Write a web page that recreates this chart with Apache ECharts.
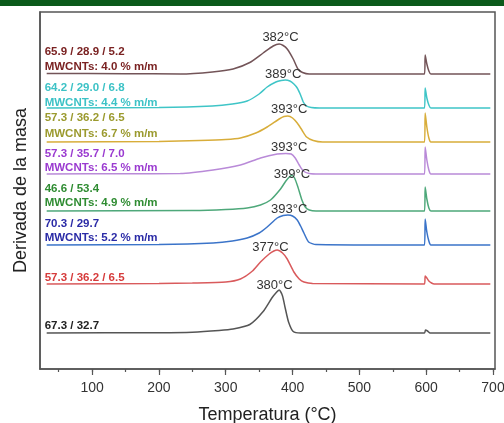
<!DOCTYPE html>
<html>
<head>
<meta charset="utf-8">
<script src="https://cdn.jsdelivr.net/npm/echarts@6/dist/echarts.min.js"></script>
<style>
html,body{margin:0;padding:0;background:#fff;}
#bar{position:absolute;left:0;top:0;width:504px;height:6px;background:#0b5a1a;}
#c{position:absolute;left:0;top:0;width:504px;height:423px;}
</style>
</head>
<body>
<div id="c"></div>
<div id="bar"></div>
<script>
// Temperature ticks
const majorTicks = [100, 200, 300, 400, 500, 600, 700];
const minorTicks = [50, 100, 150, 200, 250, 300, 350, 400, 450, 500, 550, 600, 650, 700];

// Series names (composition labels) and vertical offsets (a.u.)
const line1Labels = ['65.9 / 28.9 / 5.2', '64.2 / 29.0 / 6.8', '57.3 / 36.2 / 6.5', '57.3 / 35.7 / 7.0', '46.6 / 53.4', '70.3 / 29.7', '57.3 / 36.2 / 6.5', '67.3 / 32.7'];
const line2Labels = ['MWCNTs: 4.0 % m/m', 'MWCNTs: 4.4 % m/m', 'MWCNTs: 6.7 % m/m', 'MWCNTs: 6.5 % m/m', 'MWCNTs: 4.9 % m/m', 'MWCNTs: 5.2 % m/m', '', ''];
const baselines = [295, 261, 227, 195, 158, 124, 85, 36];
const line1Y = [317.5, 281, 251, 215, 180, 145, 91, 43];
const line2Y = [302.5, 266.5, 235, 201, 166, 131, null, null];
const peakLabels = ['382°C', '389°C', '393°C', '393°C', '399°C', '393°C', '377°C', '380°C'];
const peakLabelT = [382, 386, 395, 395, 399, 395, 367, 373];
const peakLabelY = [332, 295, 260, 222, 195, 160, 122, 84];

// DTG curves: temperature (°C) and derivative (a.u., above baseline)
const brownT = [32, 150, 232, 280, 311, 336, 356, 371, 380, 386, 392, 401, 408, 415, 425, 550, 597.5, 598.5, 601, 604, 607, 650, 696];
const brownY = [0.5, 0.3, 0, 2, 5, 11.5, 21, 28, 30, 28.5, 25, 15, 5, 1.5, 0, 0, 0, 19, 10, 3, 0, 0, 0];
const cyanT = [32, 200, 280, 310, 332, 350, 362, 375, 383, 389, 396, 402, 407, 412, 416, 421, 428, 440, 597.5, 598.5, 601, 604, 607, 696];
const cyanY = [0, 0.5, 2, 4, 7, 14, 21, 26, 27.5, 28, 27, 24, 20, 13, 6, 2, 0.5, 0, 0, 20, 10, 3, 0, 0];
const yellowT = [32, 200, 260, 300, 322, 345, 362, 380, 387, 393, 400, 407, 414, 421, 431, 445, 597.5, 598.5, 601, 604, 607, 696];
const yellowY = [0, 0.5, 1.5, 2.5, 4, 9, 15, 23, 25.5, 26, 24, 19, 12, 5, 1.5, 0, 0, 29, 15, 4, 0, 0];
const purpleT = [32, 150, 232, 281, 322, 352, 377, 390, 398, 404, 410, 416, 425, 440, 597.5, 598.5, 601, 604, 607, 696];
const purpleY = [0, 0.3, 0.5, 4, 9, 16, 20, 20.5, 20, 16, 9, 3, 0.5, 0, 0, 27, 14, 4, 0, 0];
const greenT = [32, 250, 300, 332, 352, 367, 382, 390, 396, 399, 403, 408, 414, 419, 425, 435, 597.5, 598.5, 601, 604, 607, 696];
const greenY = [0, 0.5, 1.5, 3, 6, 11, 22, 30, 34.5, 35.5, 33, 24, 11, 4, 1, 0, 0, 24, 12, 3, 0, 0];
const blueT = [32, 200, 281, 310, 332, 350, 362, 377, 386, 393, 400, 407, 412, 417, 424, 435, 597.5, 598.5, 601, 604, 607, 696];
const blueY = [0, 0.5, 2, 4, 7, 12, 18, 27, 29.5, 30, 29, 25, 19, 12, 3, 0.5, 0, 26, 13, 4, 0, 0];
const redT = [32, 200, 250, 300, 322, 340, 352, 365, 372, 377, 385, 392, 402, 410, 417, 430, 597.5, 598.5, 601, 604, 608, 612, 696];
const redY = [0, 0.5, 1, 2, 5, 13, 22, 30, 33, 34, 31, 25, 12, 5, 2, 0.5, 0, 8, 6, 3, 1, 0, 0];
const blackT = [32, 200, 250, 290, 311, 336, 356, 369, 375, 380, 385, 389, 394, 401, 412, 597.5, 599, 602, 606, 696];
const blackY = [0, 0.3, 0.8, 2.5, 4, 8.5, 21.5, 35, 40, 43, 37, 25, 11, 1.5, 0, 0, 3, 2, 0, 0];

const curvesT = [brownT, cyanT, yellowT, purpleT, greenT, blueT, redT, blackT];
const curvesY = [brownY, cyanY, yellowY, purpleY, greenY, blueY, redY, blackY];
const lineColors = ['#735458', '#3fc5c7', '#d8ad3a', '#b98ad8', '#4ea87a', '#3b74c9', '#d95a5c', '#555555'];
const textColors = ['#7a2222', '#3cc2c6', '#9b9a2e', '#9a3ad0', '#2f8c32', '#2a2aa6', '#d63b3b', '#222222'];

const FONT = "'Liberation Sans', Arial, sans-serif";
const XMIN = 22, XMAX = 703;

const series = curvesT.map((ts, i) => {
  const data = ts.map((t, k) => [t, baselines[i] + curvesY[i][k]]);
  const mp = [];
  mp.push({coord: [29, line1Y[i]], name: line1Labels[i],
    label: {show: true, position: 'right', distance: 0, formatter: line1Labels[i], color: textColors[i], fontWeight: 'bold', fontSize: 11.5, fontFamily: FONT}});
  if (line2Y[i] !== null) {
    mp.push({coord: [29, line2Y[i]], name: line2Labels[i],
      label: {show: true, position: 'right', distance: 0, formatter: line2Labels[i], color: textColors[i], fontWeight: 'bold', fontSize: 11.5, fontFamily: FONT}});
  }
  mp.push({coord: [peakLabelT[i], peakLabelY[i]], name: peakLabels[i],
    label: {show: true, position: 'inside', formatter: peakLabels[i], color: '#333', fontSize: 13, fontFamily: FONT}});
  return {
    type: 'line',
    data: data,
    showSymbol: false,
    symbol: 'none',
    smooth: 0.2,
    lineStyle: {color: lineColors[i], width: 1.5},
    z: 2,
    markPoint: {symbol: 'circle', symbolSize: 0, silent: true, data: mp, itemStyle: {color: 'transparent'}}
  };
});

const chart = echarts.init(document.getElementById('c'), null, {renderer: 'canvas'});
chart.setOption({
  animation: false,
  backgroundColor: '#fff',
  grid: {left: 40, right: 9, top: 12, bottom: 54, outerBoundsMode: 'none', containLabel: false, show: true, borderColor: '#555', borderWidth: 1.5, backgroundColor: 'transparent'},
  xAxis: [{
    type: 'value', min: XMIN, max: XMAX,
    name: 'Temperatura (°C)', nameLocation: 'middle', nameGap: 37,
    nameTextStyle: {fontSize: 18, color: '#222', fontFamily: FONT},
    axisLine: {show: true, lineStyle: {color: '#555', width: 1.5}},
    axisTick: {show: true, length: 6, customValues: majorTicks, lineStyle: {color: '#555', width: 1.2}},
    axisLabel: {show: true, customValues: majorTicks, margin: 12, fontSize: 14, color: '#333', fontFamily: FONT},
    splitLine: {show: false}
  }, {
    type: 'value', min: XMIN, max: XMAX, position: 'bottom',
    axisLine: {show: false},
    axisTick: {show: true, length: 3, customValues: minorTicks, lineStyle: {color: '#555', width: 1.2}},
    axisLabel: {show: false},
    splitLine: {show: false}
  }],
  yAxis: {
    type: 'value', min: 0, max: 357,
    name: 'Derivada de la masa', nameLocation: 'middle', nameGap: 10, nameRotate: 90,
    nameTextStyle: {fontSize: 18, color: '#222', fontFamily: FONT},
    axisLine: {show: true, lineStyle: {color: '#555', width: 1.5}},
    axisTick: {show: false},
    axisLabel: {show: false},
    splitLine: {show: false}
  },
  series: series
});
</script>
</body>
</html>
